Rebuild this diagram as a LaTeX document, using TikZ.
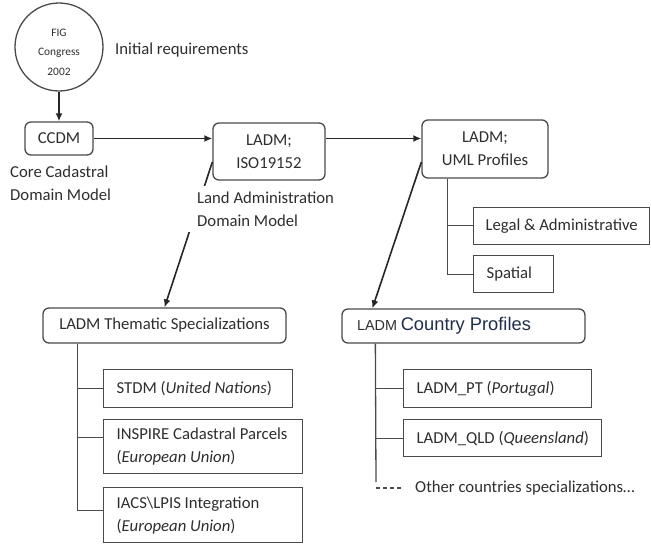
\documentclass[tikz,border=0pt]{standalone}
\usepackage{fontspec}
\setmainfont{Carlito}
\newfontfamily\arialf{Liberation Sans}
\usetikzlibrary{arrows.meta,calc}
\definecolor{ink}{HTML}{2E2E2E}
\definecolor{edge}{HTML}{4A4A4A}
\definecolor{navy}{HTML}{1F2D4A}
\newcommand{\myll}[2]{\makebox[#1][l]{#2}}
\begin{document}
\begin{tikzpicture}[x=1pt,y=-1pt, font=\fontsize{16.7}{23}\selectfont, text=ink,
  rbox/.style={draw=edge, line width=1.3pt, rounded corners=6pt, inner sep=0pt, align=center},
  leafbox/.style={draw=edge, line width=1.3pt, inner xsep=13pt, inner ysep=0pt, align=left, anchor=north west},
  arr/.style={draw=black!85, line width=1.6pt, -{Latex[length=8pt,width=7pt]}},
  tree/.style={draw=edge, line width=1.3pt},
  lbl/.style={inner sep=0pt, align=left, anchor=west}]
\useasboundingbox (0,0) rectangle (651,544);

% main nodes
\node[draw=edge, line width=1.3pt, circle, minimum size=88pt, inner sep=0pt, align=center,
      font=\fontsize{11.4}{19.5}\selectfont] (fig) at (59,47) {\rule{0pt}{17.5pt}FIG\\Congress\\2002};
\node[rbox, minimum width=68pt, minimum height=33pt] (ccdm) at (59,138.5) {CCDM};
\node[rbox, minimum width=112pt, minimum height=57pt] (iso) at (269,151.5) {LADM;\\ISO19152};
\node[rbox, minimum width=126pt, minimum height=58pt] (uml) at (485,149) {LADM;\\UML Profiles};
\node[rbox, minimum width=243pt, minimum height=35pt] (them) at (164.5,325.5) {LADM Thematic Specializations};
\node[rbox, minimum height=34pt, inner xsep=15pt, align=left] (ctry) at (463.5,326)
  {\myll{213pt}{{\arialf\fontsize{14.4}{18}\selectfont LADM} {\arialf\fontsize{18.3}{22}\selectfont\color{navy}Country Profiles}}};

% leaf boxes
\node[leafbox, inner xsep=12pt, minimum height=37pt] (legal) at (473,206.5) {\myll{152pt}{Legal \& Administrative}};
\node[leafbox, minimum height=37pt] (spatial) at (473,255) {\myll{54pt}{Spatial}};
\node[leafbox, minimum height=38pt] (stdm) at (103,369) {\myll{163pt}{STDM (\textit{United Nations})}};
\node[leafbox, minimum height=54pt] (inspire) at (103,419)
  {\myll{173pt}{INSPIRE Cadastral Parcels}\\\myll{173pt}{(\textit{European Union})}};
\node[leafbox, minimum height=55pt] (iacs) at (103,487)
  {\myll{173pt}{IACS\textbackslash LPIS Integration}\\\myll{173pt}{(\textit{European Union})}};
\node[leafbox, minimum height=38pt] (pt) at (403,369) {\myll{162pt}{LADM\_PT (\textit{Portugal})}};
\node[leafbox, minimum height=37pt] (qld) at (403,419) {\myll{172pt}{LADM\_QLD (\textit{Queensland})}};

% plain labels
\node[lbl] (initreq) at (115,50) {Initial requirements};
\node[lbl] (ccdmlbl) at (10,183.5) {Core Cadastral\\Domain Model};
\node[lbl] (other) at (415,488) {Other countries specializations\dots};

% arrows
\draw[arr] (fig.south) -- (ccdm.north);
\draw[arr] (ccdm.east) -- (ccdm.east -| iso.west);
\draw[arr] (ccdm.east -| iso.east) -- (ccdm.east -| uml.west);
\draw[arr] ([yshift=-10.5pt]iso.west) -- (them.north);
\draw[arr] ([yshift=-13pt]uml.west) -- ([xshift=31pt]ctry.north west);

% label covering the connector
\node[lbl, fill=white, inner xsep=10pt, inner ysep=6pt] (isolbl) at (187,209) {Land Administration\\Domain Model};

% trees
\coordinate (umlT) at ([xshift=26pt]uml.south west);
\draw[tree] (umlT) |- (legal.west);
\draw[tree] (umlT) |- (spatial.west);

\coordinate (thT) at ([xshift=35pt]them.south west);
\draw[tree] (thT) |- (stdm.west);
\draw[tree] (thT) |- ([yshift=9pt]inspire.west);
\draw[tree] (thT) |- ([yshift=4.5pt]iacs.west);

\coordinate (ctT) at ([xshift=34pt]ctry.south west);
\coordinate (ctEnd) at (376,482);
\coordinate (dashS) at (376,488);
\draw[tree] (ctT) |- (pt.west);
\draw[tree] (ctT) |- (qld.west);
\draw[tree] (ctT) -- (ctEnd);
\draw[tree, dash pattern=on 4pt off 3pt] (dashS) -- ([xshift=-12pt]other.west);
\end{tikzpicture}
\end{document}
